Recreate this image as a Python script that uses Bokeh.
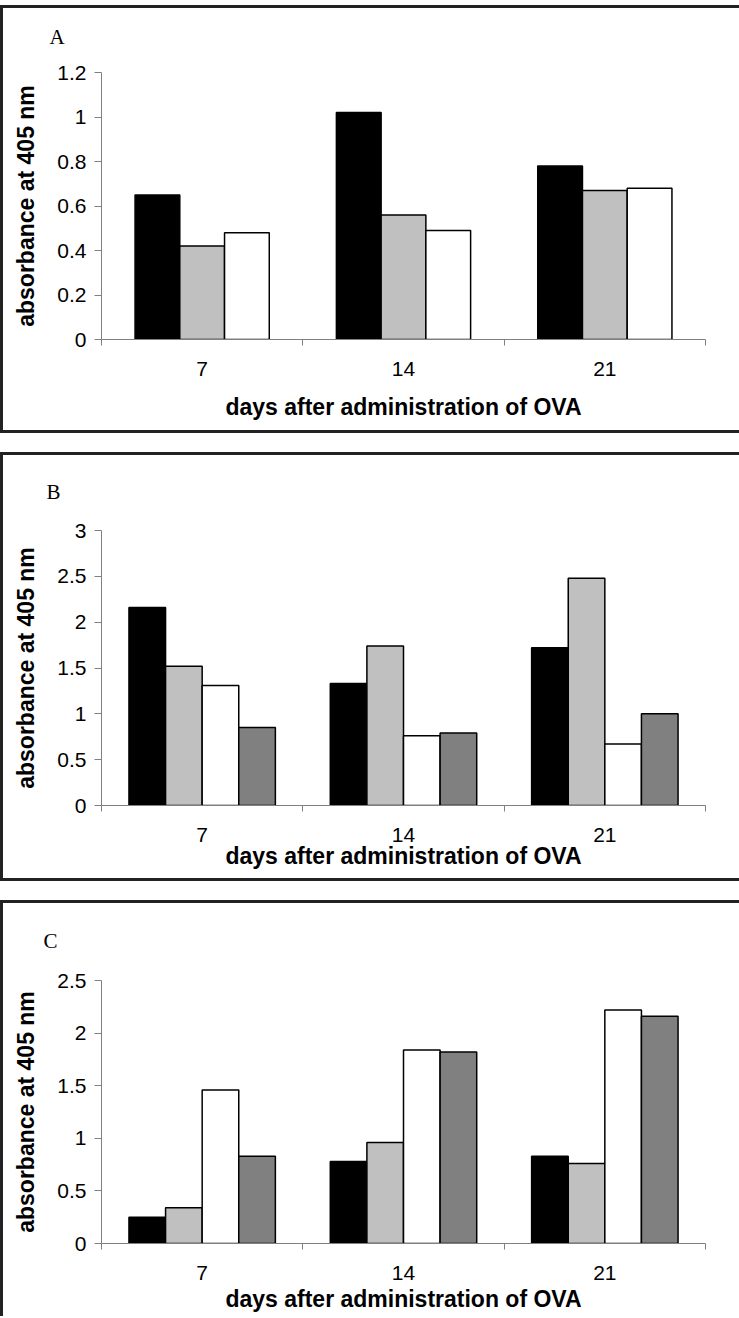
from bokeh.plotting import figure
from bokeh.models import Range1d, FixedTicker, CustomJSTickFormatter
from bokeh.layouts import column
from bokeh.embed import file_html
from bokeh.resources import INLINE

# ---------------- data ----------------
days = ["7", "14", "21"]

a_black = [0.65, 1.02, 0.78]
a_grey = [0.42, 0.56, 0.67]
a_white = [0.48, 0.49, 0.68]

b_black = [2.16, 1.33, 1.72]
b_grey = [1.52, 1.74, 2.48]
b_white = [1.31, 0.76, 0.67]
b_dark = [0.85, 0.79, 1.00]

c_black = [0.25, 0.78, 0.83]
c_grey = [0.34, 0.96, 0.76]
c_white = [1.46, 1.84, 2.22]
c_dark = [0.83, 1.82, 2.16]

a_yticks = [0, 0.2, 0.4, 0.6, 0.8, 1, 1.2]
b_yticks = [0, 0.5, 1, 1.5, 2, 2.5, 3]
c_yticks = [0, 0.5, 1, 1.5, 2, 2.5]

bar_colors = ["#000000", "#c0c0c0", "#ffffff", "#808080"]

x_title = "days after administration of OVA"
y_title = "absorbance at 405 nm"

AXIS_GREY = "#808080"
W = 739


def make_panel(letter, series, yticks, height, left, right, top, bottom,
               title_offset, title_standoff, xlabel_standoff, frame_css):
    p = figure(width=W, height=height,
               x_range=Range1d(0, len(days)), y_range=Range1d(0, yticks[-1]),
               output_backend="svg", toolbar_location=None,
               min_border_left=left, min_border_right=right,
               min_border_top=top, min_border_bottom=bottom,
               background_fill_color="white", border_fill_alpha=0,
               styles={"box-shadow": frame_css})
    p.outline_line_color = None
    p.grid.visible = False

    n = len(series)
    w = 1.0 / (n + 1.5)
    group = n * w
    for k, vals in enumerate(series):
        xs = [i + 0.5 - group / 2 + (k + 0.5) * w for i in range(len(days))]
        p.vbar(x=xs, top=vals, bottom=0, width=w,
               fill_color=bar_colors[k], line_color="black", line_width=1.5)

    # x axis: ticks on category boundaries, labels at category centres
    xa = p.xaxis[0]
    xa.ticker = FixedTicker(ticks=[i + 0.5 for i in range(len(days))],
                            minor_ticks=list(range(len(days) + 1)))
    xa.formatter = CustomJSTickFormatter(args=dict(cats=days),
                                         code="return cats[Math.floor(tick)]")
    xa.major_tick_in = 0
    xa.major_tick_out = 0
    xa.minor_tick_in = 0
    xa.minor_tick_out = 6
    xa.minor_tick_line_color = AXIS_GREY
    xa.axis_line_color = AXIS_GREY
    xa.major_label_standoff = 16
    xa.major_label_text_font = "Liberation Sans"
    xa.major_label_text_font_size = "21px"
    xa.major_label_text_color = "black"
    xa.axis_label = x_title
    xa.axis_label_text_font = "Liberation Sans"
    xa.axis_label_text_font_style = "bold"
    xa.axis_label_text_font_size = "23px"
    xa.axis_label_text_color = "black"
    xa.axis_label_standoff = xlabel_standoff

    # y axis
    ya = p.yaxis[0]
    ya.ticker = FixedTicker(ticks=yticks, minor_ticks=[])
    ya.formatter = CustomJSTickFormatter(code="return String(Math.round(tick*100)/100)")
    ya.major_tick_in = 0
    ya.major_tick_out = 7
    ya.major_tick_line_color = AXIS_GREY
    ya.minor_tick_line_color = None
    ya.axis_line_color = AXIS_GREY
    ya.major_label_standoff = 8
    ya.major_label_text_font = "Liberation Sans"
    ya.major_label_text_font_size = "21px"
    ya.major_label_text_color = "black"
    ya.axis_label = y_title
    ya.axis_label_text_font = "Liberation Sans"
    ya.axis_label_text_font_style = "bold"
    ya.axis_label_text_font_size = "23px"
    ya.axis_label_text_color = "black"
    ya.axis_label_standoff = 15

    # panel letter
    p.title.text = letter
    p.title.text_font = "Liberation Serif"
    p.title.text_font_style = "normal"
    p.title.text_font_size = "21px"
    p.title.text_color = "black"
    p.title.align = "left"
    p.title.offset = title_offset
    p.title.standoff = title_standoff
    p.title.vertical_align = "top"
    return p


BOX_A = ("inset 0 5px 0 0 #ffffff, inset 3px 0 0 0 #222222, "
         "inset 0 8px 0 0 #222222, inset 0 -3px 0 0 #222222")
BOX = "inset 3px 3px 0 0 #222222, inset 0 -3px 0 0 #222222"
BOX_OPEN = "inset 3px 3px 0 0 #222222"

pa = make_panel("A", [a_black, a_grey, a_white], a_yticks, 433,
                96, 34, 72, 94, -52, 44, 15, BOX_A)
pb = make_panel("B", [b_black, b_grey, b_white, b_dark], b_yticks, 429,
                99, 27, 78, 76, -55, 50, -2, BOX)
pc = make_panel("C", [c_black, c_grey, c_white, c_dark], c_yticks, 416,
                101, 22, 80, 73, -58, 52, 3, BOX_OPEN)

layout = column(pa, pb, pc, spacing=19)
open("out.html", "w").write(file_html(layout, INLINE))
